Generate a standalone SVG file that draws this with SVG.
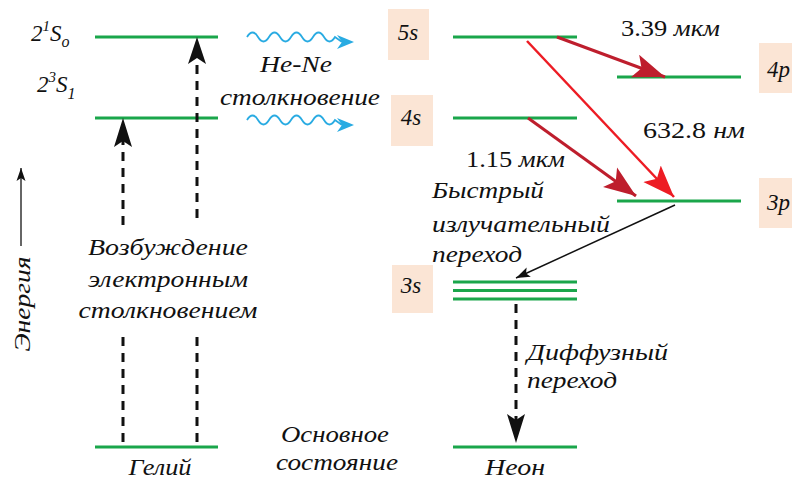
<svg xmlns="http://www.w3.org/2000/svg" width="792" height="481" viewBox="0 0 792 481">
<defs>
<style>
.lvl{stroke:#1aa64b;stroke-width:3;fill:none}
.t{font-family:"Liberation Serif","Times New Roman",serif;font-style:italic;fill:#111;font-size:23px}
.n{font-family:"Liberation Serif","Times New Roman",serif;fill:#111;font-size:23px}
.box{fill:#fbe5d5}
.dash{stroke:#111;stroke-width:3;stroke-dasharray:9 7;fill:none}
.wave{stroke:#29abe2;stroke-width:1.8;fill:none}
</style>
<marker id="ahRed" markerUnits="userSpaceOnUse" markerWidth="36" markerHeight="28" refX="32" refY="12" orient="auto" viewBox="0 0 36 24">
<path d="M0,0 L32,12 L0,24 L7,12 Z" fill="#be1e2d"/>
</marker>
<marker id="ahRed2" markerUnits="userSpaceOnUse" markerWidth="36" markerHeight="28" refX="32" refY="12" orient="auto" viewBox="0 0 36 24">
<path d="M0,0 L32,12 L0,24 L7,12 Z" fill="#ed1c24"/>
</marker>
<marker id="ahBlk" markerUnits="userSpaceOnUse" markerWidth="16" markerHeight="12" refX="14" refY="5" orient="auto" viewBox="0 0 16 10">
<path d="M0,0 L14,5 L0,10 L3,5 Z" fill="#111"/>
</marker>
<marker id="ahE" markerUnits="userSpaceOnUse" markerWidth="14" markerHeight="10" refX="13" refY="4.5" orient="auto" viewBox="0 0 14 9">
<path d="M0,0 L13,4.5 L0,9 L3,4.5 Z" fill="#111"/>
</marker>
</defs>
<rect width="792" height="481" fill="#fff"/>

<g id="energy-axis">
<line x1="21" y1="246" x2="21" y2="168" stroke="#333" stroke-width="1.5" marker-end="url(#ahE)"/>
<text class="t" transform="translate(30,304) rotate(-90)" text-anchor="middle" textLength="95" lengthAdjust="spacingAndGlyphs" font-size="24">Энергия</text>
</g>

<g id="he-2S0">
<line class="lvl" x1="95" y1="37" x2="218" y2="37"/>
<text class="t" x="31" y="41" font-size="25">2<tspan font-size="15" dy="-10">1</tspan><tspan dy="10">S</tspan><tspan font-size="16" dy="6">o</tspan></text>
</g>
<g id="he-2S1">
<line class="lvl" x1="95" y1="118" x2="218" y2="118"/>
<text class="t" x="37" y="92" font-size="25">2<tspan font-size="15" dy="-10">3</tspan><tspan dy="10">S</tspan><tspan font-size="16" dy="7">1</tspan></text>
</g>
<g id="he-ground">
<line class="lvl" x1="95" y1="447" x2="218" y2="447"/>
<text class="t" x="160" y="475" text-anchor="middle" textLength="63" lengthAdjust="spacingAndGlyphs">Гелий</text>
</g>

<g id="excitation-label">
<text class="t" x="168" y="255" text-anchor="middle" textLength="160" lengthAdjust="spacingAndGlyphs">Возбуждение</text>
<text class="t" x="168" y="287" text-anchor="middle" textLength="160" lengthAdjust="spacingAndGlyphs">электронным</text>
<text class="t" x="168" y="318" text-anchor="middle" textLength="179" lengthAdjust="spacingAndGlyphs">столкновением</text>
</g>

<g id="collision-label">
<text class="t" x="296" y="72" text-anchor="middle" textLength="72" lengthAdjust="spacingAndGlyphs">He-Ne</text>
<text class="t" x="300" y="105" text-anchor="middle" textLength="160" lengthAdjust="spacingAndGlyphs">столкновение</text>
</g>

<g id="ground-label">
<text class="t" x="335" y="442" text-anchor="middle" textLength="108" lengthAdjust="spacingAndGlyphs">Основное</text>
<text class="t" x="337" y="470" text-anchor="middle" textLength="122" lengthAdjust="spacingAndGlyphs">состояние</text>
</g>

<g id="ne-5s">
<rect class="box" x="388" y="9" width="41" height="51"/>
<text class="t" x="408" y="40" text-anchor="middle" font-size="25">5s</text>
<line class="lvl" x1="453" y1="37" x2="577" y2="37"/>
</g>
<g id="ne-4s">
<rect class="box" x="391" y="95" width="42" height="51"/>
<text class="t" x="411" y="125" text-anchor="middle" font-size="25">4s</text>
<line class="lvl" x1="453" y1="118" x2="577" y2="118"/>
</g>
<g id="ne-4p">
<rect class="box" x="759" y="43" width="40" height="50"/>
<text class="t" x="767" y="77" font-size="25">4p</text>
<line class="lvl" x1="617" y1="77" x2="741" y2="77"/>
</g>
<g id="ne-3p">
<rect class="box" x="759" y="178" width="40" height="50"/>
<text class="t" x="767" y="210" font-size="25">3p</text>
<line class="lvl" x1="617" y1="201" x2="741" y2="201"/>
</g>
<g id="ne-3s">
<rect class="box" x="392" y="265" width="41" height="48"/>
<text class="t" x="411" y="293" text-anchor="middle" font-size="25">3s</text>
<line class="lvl" x1="453" y1="282" x2="577" y2="282"/>
<line class="lvl" x1="453" y1="290.5" x2="577" y2="290.5"/>
<line class="lvl" x1="453" y1="299" x2="577" y2="299"/>
</g>
<g id="ne-ground">
<line class="lvl" x1="453" y1="447" x2="577" y2="447"/>
<text class="t" x="515" y="475" text-anchor="middle" textLength="60" lengthAdjust="spacingAndGlyphs">Неон</text>
</g>

<g id="transition-labels">
<text x="621" y="36" textLength="99" lengthAdjust="spacingAndGlyphs"><tspan class="n">3.39 </tspan><tspan class="t">мкм</tspan></text>
<text x="643" y="138" textLength="102" lengthAdjust="spacingAndGlyphs"><tspan class="n">632.8 </tspan><tspan class="t">нм</tspan></text>
<text x="466" y="167" textLength="99" lengthAdjust="spacingAndGlyphs"><tspan class="n">1.15 </tspan><tspan class="t">мкм</tspan></text>
<text class="t" x="432" y="198" textLength="112" lengthAdjust="spacingAndGlyphs">Быстрый</text>
<text class="t" x="432" y="232" textLength="178" lengthAdjust="spacingAndGlyphs">излучательный</text>
<text class="t" x="432" y="262" textLength="90" lengthAdjust="spacingAndGlyphs">переход</text>
<text class="t" x="527" y="360" textLength="141" lengthAdjust="spacingAndGlyphs">Диффузный</text>
<text class="t" x="527" y="388" textLength="90" lengthAdjust="spacingAndGlyphs">переход</text>
</g>

<g id="connectors">
<line class="dash" x1="123" y1="225" x2="123" y2="140"/>
<path d="M123,118 L132,147 L123,141 L114,147 Z" fill="#111"/>
<line class="dash" x1="123" y1="337" x2="123" y2="445"/>
<line class="dash" x1="197" y1="218" x2="197" y2="60"/>
<path d="M197,37 L206,64 L197,58 L188,64 Z" fill="#111"/>
<line class="dash" x1="197" y1="337" x2="197" y2="445"/>

<path class="wave" d="M247,37 q5.5,-9 11,0 t11,0 t11,0 t11,0 t11,0 t11,0 t11,0 t11,0 L342,42"/>
<path d="M354,42 L337,35 L342,42 L337,49 Z" fill="#29abe2"/>
<path class="wave" d="M247,120 q5.5,-9 11,0 t11,0 t11,0 t11,0 t11,0 t11,0 t11,0 t11,0 L342,125"/>
<path d="M354,125 L337,118 L342,125 L337,132 Z" fill="#29abe2"/>

<line x1="557" y1="37" x2="665" y2="77" stroke="#be1e2d" stroke-width="3" marker-end="url(#ahRed)"/>
<line x1="527" y1="41" x2="674" y2="197" stroke="#ed1c24" stroke-width="2.5" marker-end="url(#ahRed2)"/>
<line x1="528" y1="118" x2="636" y2="196" stroke="#be1e2d" stroke-width="3" marker-end="url(#ahRed)"/>
<line x1="675" y1="205" x2="516" y2="278" stroke="#111" stroke-width="1.5" marker-end="url(#ahBlk)"/>

<line class="dash" x1="516" y1="304" x2="516" y2="420"/>
<path d="M516,443 L525,414 L516,420 L507,414 Z" fill="#111"/>
</g>
</svg>
